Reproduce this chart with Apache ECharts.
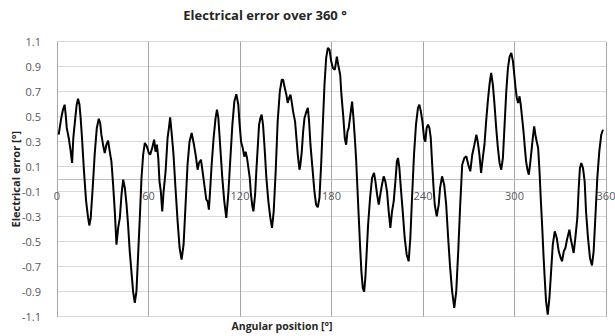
<!DOCTYPE html>
<html>
<head>
<meta charset="utf-8">
<script src="https://cdn.jsdelivr.net/npm/echarts@6/dist/echarts.min.js"></script>
<style>html,body{margin:0;padding:0;background:#fff;}#c{width:615px;height:336px;}</style>
</head>
<body>
<div id="c"></div>
<script>
var titleText = 'Electrical error over 360 °';
var xName = 'Angular position [°]';
var yName = 'Electrical error [°]';
var xTicks = [0, 60, 120, 180, 240, 300, 360];
var yTicks = [-1.1, -0.9, -0.7, -0.5, -0.3, -0.1, 0.1, 0.3, 0.5, 0.7, 0.9, 1.1];

var angles = [
 1.1,2.8,3.9,5.0,5.7,6.4,7.7,9.0,9.9,10.7,12.0,12.9,13.8,14.7,15.5,16.4,17.7,19.1,20.4,21.2,22.1,23.4,24.7,26.1,27.4,28.3,29.1,30.2,31.3,32.4,33.5,34.6,35.7,36.8,37.9,39.0,40.1,41.2,42.3,43.4,44.5,45.6,46.6,47.7,48.8,49.9,51.0,52.1,53.2,54.3,55.4,56.5,57.6,58.9,60.2,
 61.1,62.4,63.7,64.6,65.5,66.4,67.2,68.1,69.0,69.9,71.2,72.5,73.4,74.2,75.1,76.4,77.7,79.1,80.4,81.7,83.0,84.3,85.6,86.9,88.3,89.6,90.9,92.2,93.1,94.4,95.3,96.6,97.9,98.8,99.6,100.5,101.4,102.7,104.0,104.9,105.8,107.1,108.4,109.7,111.0,112.3,113.7,115.0,116.3,117.6,118.9,119.6,
 120.7,121.8,122.8,123.7,124.6,125.5,126.4,127.2,128.1,128.8,129.9,130.7,131.6,132.5,133.4,134.2,135.1,136.0,137.3,138.6,139.9,141.0,142.1,143.4,144.7,146.1,147.4,148.3,149.1,150.4,151.3,152.2,153.1,154.0,154.8,156.1,157.0,157.9,159.0,159.6,160.5,161.4,162.3,163.6,164.5,165.3,166.2,167.5,168.8,169.9,171.0,172.1,173.2,174.3,175.4,176.5,177.6,178.7,179.8,
 180.9,182.2,183.5,184.4,185.7,186.5,187.8,188.7,189.6,190.5,191.3,192.4,193.5,194.4,195.3,196.1,197.0,197.9,198.7,199.6,200.5,201.4,202.2,203.1,204.0,205.3,206.6,207.9,208.8,209.9,211.0,212.0,213.1,214.2,215.3,216.4,217.5,218.6,219.7,220.8,221.9,222.9,223.6,224.5,225.3,226.7,228.0,229.3,230.6,231.7,232.8,234.1,235.4,236.7,237.6,238.6,
 239.6,240.7,241.5,242.4,243.3,244.2,245.1,245.9,246.8,247.7,249.0,250.3,251.2,252.5,253.9,255.2,256.5,257.8,259.1,260.5,261.8,263.1,264.4,265.7,267.1,268.4,269.7,271.0,272.3,273.7,275.0,275.9,277.0,278.1,279.2,280.3,281.4,282.5,283.6,284.7,285.8,286.9,288.0,289.1,290.2,291.3,292.4,293.5,294.6,295.7,296.8,297.9,299.0,
 300.7,301.5,302.4,303.3,304.1,305.0,305.9,306.8,307.6,308.5,309.4,310.2,311.1,312.0,312.9,313.7,314.6,315.5,316.4,317.2,318.1,319.0,319.8,320.7,321.8,322.9,324.0,325.1,326.4,327.7,329.0,330.3,331.2,332.3,333.4,334.4,336.0,336.8,337.7,338.8,339.9,341.2,342.1,342.9,343.8,344.9,346.0,346.9,348.2,349.5,350.8,351.9,353.0,354.3,355.6,356.9,358.0
];
var errors = [
 0.356,0.49,0.556,0.596,0.516,0.41,0.33,0.22,0.13,0.33,0.49,0.596,0.644,0.6,0.49,0.33,0.063,-0.177,-0.31,-0.37,-0.31,-0.07,0.196,0.41,0.484,0.45,0.356,0.276,0.21,0.276,0.308,0.22,0.14,-0.044,-0.257,-0.524,-0.39,-0.31,-0.124,-0.004,-0.07,-0.204,-0.364,-0.577,-0.737,-0.897,-0.99,-0.897,-0.604,-0.31,0.009,0.196,0.29,0.263,0.21,
 0.196,0.25,0.316,0.22,0.276,0.17,-0.017,-0.1,-0.257,-0.1,0.06,0.33,0.41,0.495,0.38,0.196,-0.07,-0.337,-0.55,-0.644,-0.524,-0.204,0.116,0.30,0.37,0.29,0.196,0.076,0.13,0.156,0.076,-0.044,-0.164,-0.177,-0.244,-0.07,0.116,0.33,0.49,0.556,0.49,0.25,0.01,-0.177,-0.31,-0.124,0.17,0.436,0.623,0.68,0.596,0.46,
 0.30,0.25,0.18,0.22,0.17,0.09,0.01,-0.124,-0.217,-0.257,-0.124,0.063,0.25,0.436,0.49,0.516,0.436,0.276,0.01,-0.177,-0.31,-0.39,-0.257,0.063,0.463,0.70,0.796,0.796,0.743,0.676,0.61,0.65,0.676,0.61,0.543,0.463,0.33,0.196,0.076,0.116,0.22,0.38,0.49,0.543,0.57,0.463,0.276,0.09,-0.097,-0.204,-0.225,-0.15,0.116,0.436,0.756,0.97,1.05,1.036,0.943,
 0.89,0.876,0.98,0.916,0.836,0.676,0.49,0.33,0.276,0.383,0.41,0.516,0.62,0.49,0.33,0.17,-0.07,-0.31,-0.524,-0.737,-0.87,-0.90,-0.79,-0.577,-0.364,-0.15,0.01,0.05,-0.017,-0.124,-0.204,-0.124,-0.044,0.023,-0.017,-0.097,-0.257,-0.39,-0.257,-0.177,-0.017,0.143,0.17,0.09,-0.044,-0.257,-0.47,-0.604,-0.657,-0.47,-0.15,0.196,0.436,0.57,0.596,0.543,
 0.463,0.33,0.30,0.41,0.436,0.41,0.33,0.143,-0.044,-0.204,-0.297,-0.204,-0.07,0.023,-0.044,-0.204,-0.47,-0.71,-0.897,-1.03,-0.897,-0.577,-0.204,0.116,0.17,0.183,0.116,0.063,0.196,0.276,0.356,0.30,0.196,0.05,0.17,0.276,0.463,0.623,0.756,0.85,0.756,0.596,0.41,0.25,0.13,0.076,0.17,0.436,0.70,0.89,0.98,1.01,0.943,
 0.73,0.65,0.61,0.663,0.596,0.49,0.383,0.25,0.143,0.076,0.036,0.116,0.223,0.33,0.423,0.356,0.30,0.25,0.063,-0.15,-0.364,-0.604,-0.79,-0.977,-1.084,-0.95,-0.737,-0.524,-0.417,-0.47,-0.577,-0.63,-0.657,-0.577,-0.55,-0.484,-0.404,-0.47,-0.524,-0.59,-0.47,-0.31,-0.07,0.09,0.13,0.09,-0.017,-0.257,-0.47,-0.63,-0.69,-0.577,-0.31,0.01,0.223,0.356,0.396
];

var seriesData = angles.map(function (a, i) { return [a, errors[i]]; });

var gridTop = 41.7, gridBottom = 19.3, chartH = 336;
var plotH = chartH - gridTop - gridBottom;
// distance from bottom edge of the plot to the zero line (y range is symmetric)
var zeroOffset = -plotH * (0 - yTicks[0]) / (yTicks[yTicks.length - 1] - yTicks[0]);

var chart = echarts.init(document.getElementById('c'), null, { renderer: 'svg' });
var font = 'Open Sans, Liberation Sans, sans-serif';
chart.setOption({
  animation: false,
  backgroundColor: '#ffffff',
  title: [
    { text: titleText, left: 265, top: 8, textAlign: 'center', padding: 0,
      textStyle: { fontSize: 13, fontWeight: 'bold', color: '#262626', fontFamily: font } },
    { text: xName, left: 282, top: 320, textAlign: 'center', padding: 0,
      textStyle: { fontSize: 10.5, fontWeight: 'bold', color: '#262626', fontFamily: font } }
  ],
  grid: { left: 57, right: 9, top: gridTop, bottom: gridBottom, containLabel: false, outerBoundsMode: 'none' },
  xAxis: {
    type: 'value', min: xTicks[0], max: xTicks[xTicks.length - 1], interval: 60,
    position: 'bottom', offset: zeroOffset,
    axisLine: { show: true, onZero: false, lineStyle: { color: '#bfbfbf', width: 1 } },
    axisTick: { show: false },
    axisLabel: { fontSize: 11, color: '#595959', fontFamily: font, margin: 11,
      formatter: function (v) { return xTicks.indexOf(v) >= 0 ? String(v) : ''; } },
    splitLine: { show: true, showMinLine: true, showMaxLine: true, lineStyle: { color: '#a6a6a6', width: 1 } }
  },
  yAxis: {
    type: 'value', min: yTicks[0], max: yTicks[yTicks.length - 1], interval: 0.2,
    name: yName, nameLocation: 'middle', nameGap: 36, nameRotate: 90, nameMoveOverlap: false,
    nameTextStyle: { fontSize: 11, fontWeight: 'bold', color: '#262626', fontFamily: font },
    axisLine: { show: false, onZero: false },
    axisTick: { show: false },
    axisLabel: { fontSize: 11, color: '#595959', fontFamily: font, margin: 16,
      formatter: function (v) { var s = (Math.round(v * 10) / 10).toFixed(1); return s === '-0.0' ? '0.0' : s; } },
    splitLine: { show: true, showMinLine: true, showMaxLine: true, lineStyle: { color: '#d9d9d9', width: 1 } }
  },
  series: [{
    type: 'line', data: seriesData, showSymbol: false, smooth: false,
    lineStyle: { color: '#000000', width: 2 }, z: 5
  }]
});
</script>
</body>
</html>
